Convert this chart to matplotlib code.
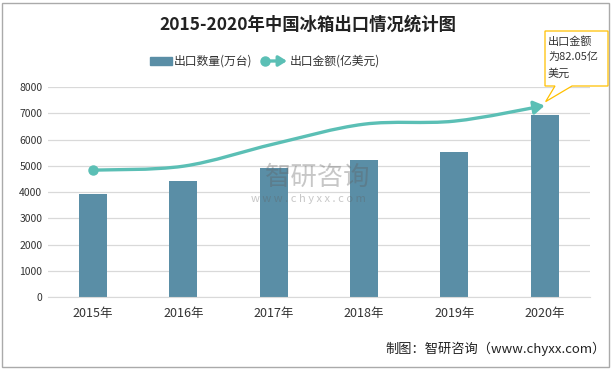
import numpy as np
import matplotlib.pyplot as plt
from matplotlib.path import Path
from matplotlib.patches import FancyArrowPatch, Rectangle, Polygon
from matplotlib.lines import Line2D

plt.rcParams['font.family'] = ['Noto Sans CJK SC', 'DejaVu Sans']

years = ['2015年', '2016年', '2017年', '2018年', '2019年', '2020年']
qty = [3930, 4420, 4910, 5220, 5520, 6930]          # 出口数量(万台)
amount = [54.4, 56.1, 65.6, 74.1, 75.4, 82.05]       # 出口金额(亿美元)
yticks = [0, 1000, 2000, 3000, 4000, 5000, 6000, 7000, 8000]

bar_color = '#5A8EA6'
line_color = '#5BBFB5'
W, H = 615, 369

fig = plt.figure(figsize=(6.15, 3.69), dpi=100)
ax = fig.add_axes([0.078, 0.195, 0.881, 0.569])
ax2 = ax.twinx()

x = np.arange(len(years))
ax.bar(x, qty, width=0.31, color=bar_color, zorder=2)
ax.set_xlim(-0.5, 5.5)
ax.set_ylim(0, 8000)
ax.set_yticks(yticks)
ax.set_yticklabels([str(v) for v in yticks], fontsize=7.5, color='#333333')
ax.set_xticks(x)
ax.set_xticklabels(years, fontsize=9, color='#333333')
ax.tick_params(length=0, pad=4)
ax.tick_params(axis='x', pad=7)
ax.grid(axis='y', color='#D9D9D9', linewidth=0.9, zorder=0)
ax.set_axisbelow(True)
for s in ax.spines.values():
    s.set_visible(False)
ax.spines['bottom'].set_visible(True)
ax.spines['bottom'].set_color('#D9D9D9')

# secondary (hidden) scale for export amount
ax2.set_ylim(0, 90)
ax2.set_yticks([])
for s in ax2.spines.values():
    s.set_visible(False)

# smooth curve through the points (Catmull-Rom -> cubic bezier)
pts = np.column_stack([x, amount]).astype(float)
ext = np.vstack([pts[0], pts, pts[-1]])
verts = [tuple(pts[0])]
codes = [Path.MOVETO]
for i in range(len(pts) - 1):
    p0, p1, p2, p3 = ext[i], ext[i + 1], ext[i + 2], ext[i + 3]
    c1 = p1 + (p2 - p0) / 6
    c2 = p2 - (p3 - p1) / 6
    verts += [tuple(c1), tuple(c2), tuple(p2)]
    codes += [Path.CURVE4] * 3
curve = FancyArrowPatch(path=Path(verts, codes), arrowstyle='-|>,head_length=0.45,head_width=0.28',
                        mutation_scale=14, color=line_color, linewidth=2.4,
                        transform=ax2.transData, zorder=4)
ax2.add_patch(curve)
ax2.plot([x[0]], [amount[0]], 'o', color=line_color, markersize=6.5, zorder=5)

# callout box with pointer to the last point
tip_px = ax2.transData.transform((x[-1], amount[-1]))
bl, br, bt, bb = 545, 608, H - 31, H - 86
callout = Polygon([(bl, bt), (br, bt), (br, bb), (572, bb), (tip_px[0] + 1, tip_px[1] + 4),
                   (555, bb), (bl, bb)], closed=True, fc='white', ec='#FFC000', lw=0.9,
                  transform=None, zorder=6)
fig.add_artist(callout)
fig.text((bl + 3) / W, (bt - 5) / H, '出口金额\n为82.05亿\n美元', ha='left', va='top',
         fontsize=8, color='#333333', linespacing=1.65, zorder=7)

# title
fig.text(0.5, 0.932, '2015-2020年中国冰箱出口情况统计图', ha='center', va='center',
         fontsize=12.5, fontweight='bold', color='#222222')

# legend
ly = 1 - 61 / H
fig.add_artist(Rectangle((150 / W, ly - 0.012), 22 / W, 0.024,
                         transform=fig.transFigure, color=bar_color))
fig.text(174 / W, ly, '出口数量(万台)', va='center', fontsize=8.5, color='#333333')
fig.add_artist(FancyArrowPatch((264 / W, ly), (287 / W, ly), transform=fig.transFigure,
                               arrowstyle='-|>,head_length=0.4,head_width=0.25',
                               mutation_scale=12, color=line_color, lw=2.4, shrinkA=0, shrinkB=0))
fig.add_artist(Line2D([265 / W], [ly], marker='o', markersize=6.5, color=line_color,
                      transform=fig.transFigure))
fig.text(290 / W, ly, '出口金额(亿美元)', va='center', fontsize=8.5, color='#333333')

# watermark
fig.text(318 / W, 1 - 177 / H, '智研咨询', ha='center', va='center', fontsize=19,
         color='#606060', alpha=0.35, zorder=10)
fig.text(308 / W, 1 - 199 / H, 'w w w . c h y x x . c o m', ha='center', va='center',
         fontsize=8, color='#606060', alpha=0.35, zorder=10)

# source
fig.text(385 / W, 1 - 349 / H, '制图：智研咨询（www.chyxx.com）', va='center',
         fontsize=9.5, color='#222222')

# frame
fig.add_artist(Rectangle((2 / W, 2 / H), 607 / W, 364 / H, transform=fig.transFigure,
                         fill=False, ec='#AAAAAA', lw=1.0))

fig.savefig('out.png', dpi=100)
